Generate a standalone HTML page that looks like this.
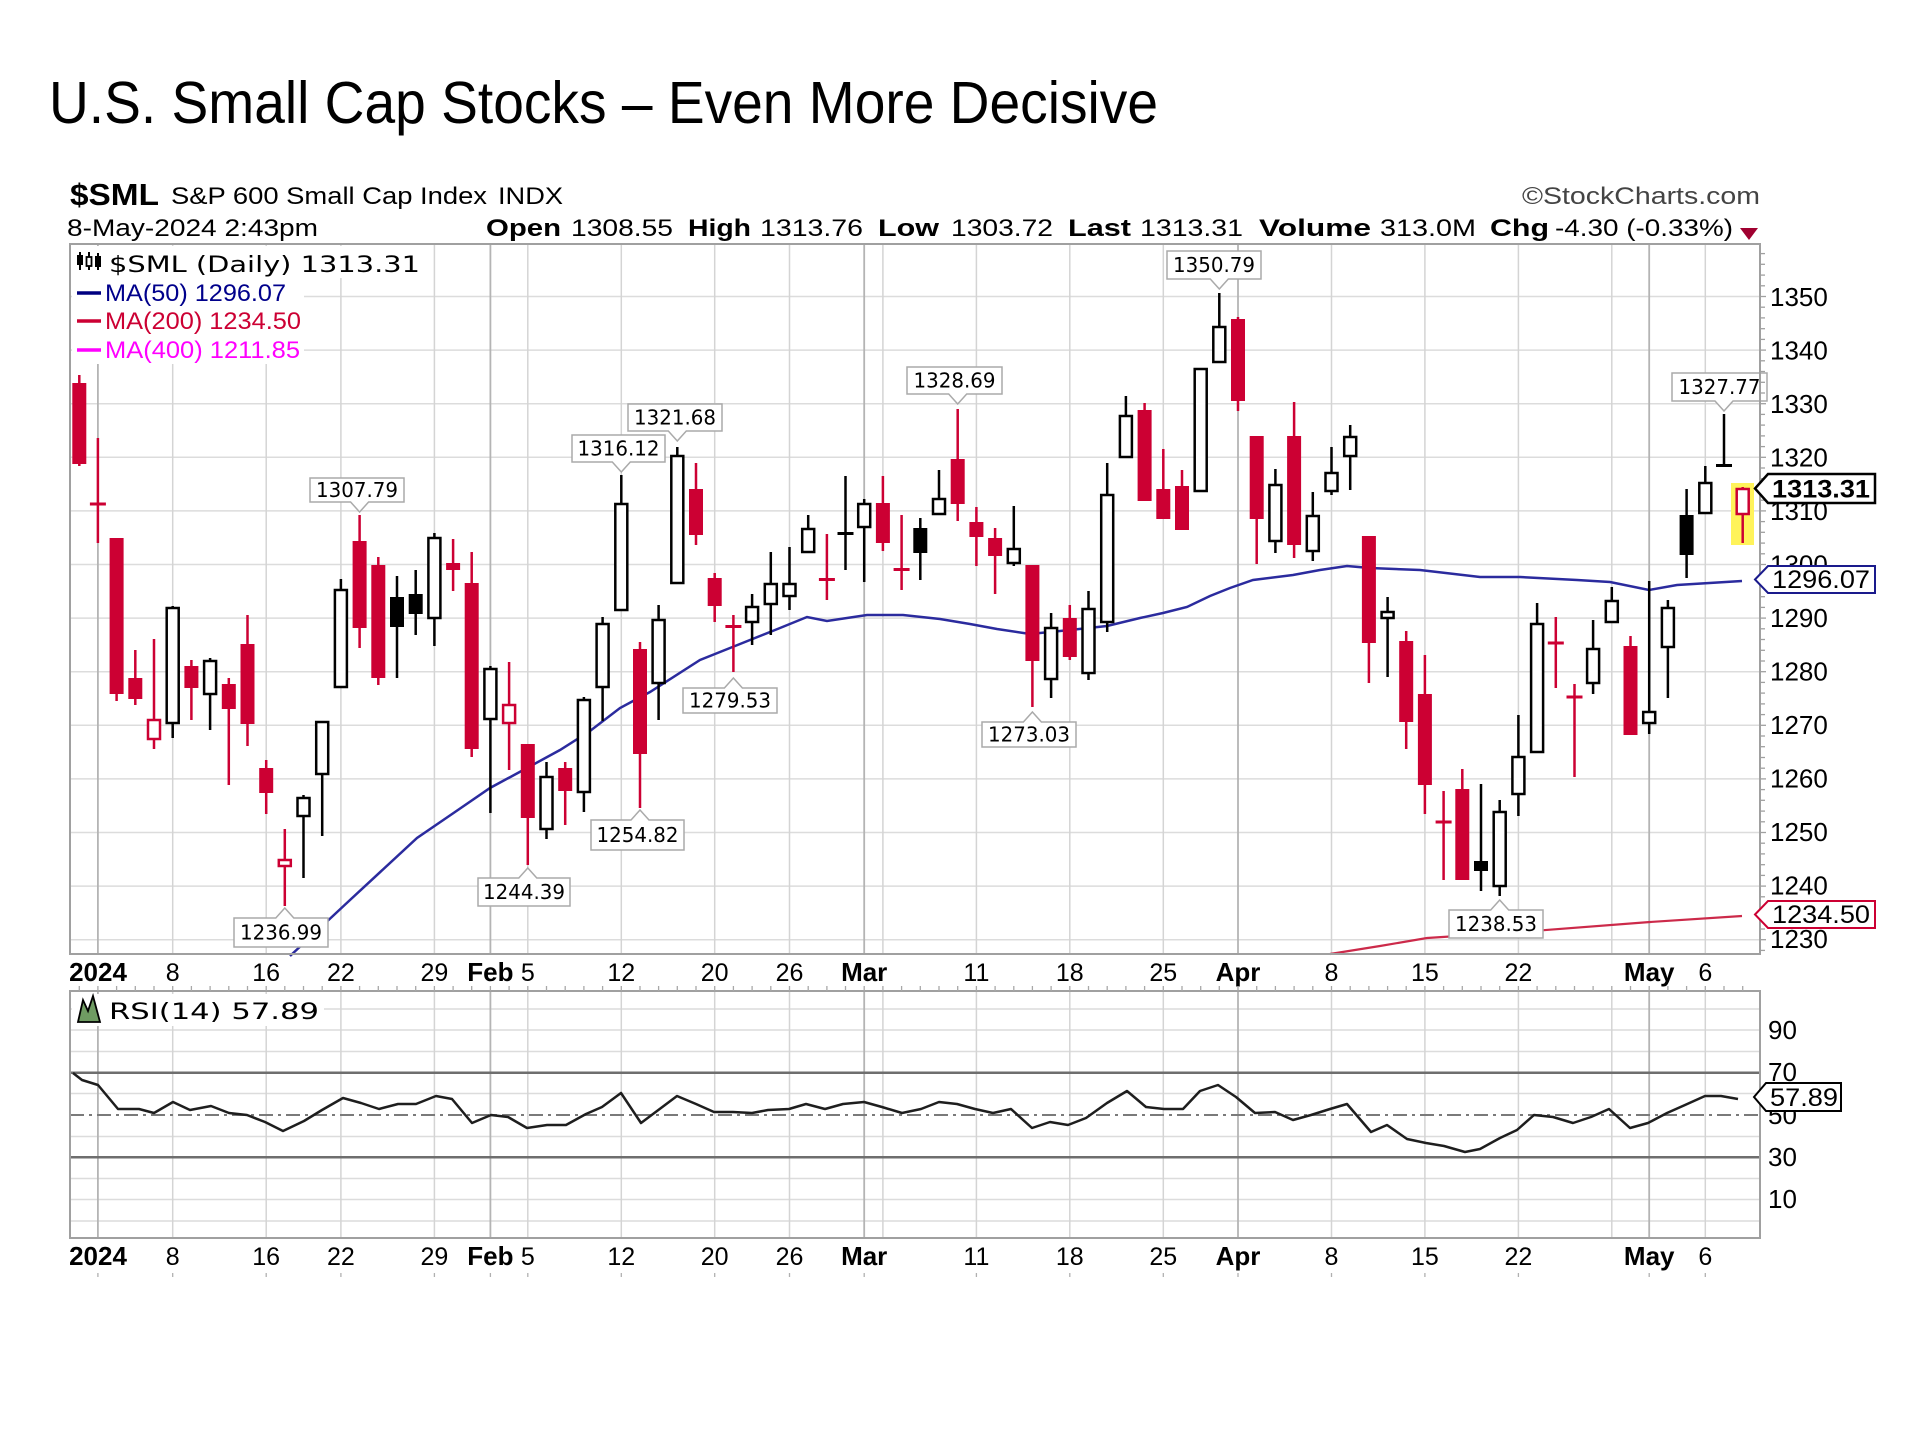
<!DOCTYPE html>
<html>
<head>
<meta charset="utf-8">
<style>
html,body{margin:0;padding:0;background:#fff;}
svg{display:block;}
.wr{stroke:#cc0033;stroke-width:2.5}
.wb{stroke:#000;stroke-width:2.5}
.fr{fill:#cc0033}
.fb{fill:#000}
.hr{fill:#fff;stroke:#cc0033;stroke-width:2.5}
.hb{fill:#fff;stroke:#000;stroke-width:2.5}
.gh{stroke:#dcdcdc;stroke-width:1.5}
.gv{stroke:#d4d4d4;stroke-width:1.5}
.gm{stroke:#b4b4b4;stroke-width:1.8}
.lb{fill:#fff;stroke:#aaa;stroke-width:1.5}
.lt{font-family:"DejaVu Sans",sans-serif;font-size:20px;fill:#000;text-anchor:middle}
.ax{font-family:"Liberation Sans",sans-serif;font-size:26px;fill:#000}
.xd{font-family:"Liberation Sans",sans-serif;font-size:25px;fill:#000;text-anchor:middle}
.xb{font-family:"Liberation Sans",sans-serif;font-size:26px;font-weight:bold;fill:#000;text-anchor:middle}
</style>
</head>
<body>
<svg width="1920" height="1440" viewBox="0 0 1920 1440" xmlns="http://www.w3.org/2000/svg">
<rect x="0" y="0" width="1920" height="1440" fill="#fff"/>

<!-- Title -->
<text x="49" y="123" font-family="Liberation Sans, sans-serif" font-size="59" fill="#000" textLength="1109" lengthAdjust="spacingAndGlyphs">U.S. Small Cap Stocks – Even More Decisive</text>

<!-- Header -->
<text x="70" y="205" font-family="Liberation Sans, sans-serif" font-size="31" font-weight="bold" textLength="89" lengthAdjust="spacingAndGlyphs">$SML</text>
<text x="171" y="204" font-family="Liberation Sans, sans-serif" font-size="24" textLength="316" lengthAdjust="spacingAndGlyphs">S&amp;P 600 Small Cap Index</text>
<text x="498" y="204" font-family="Liberation Sans, sans-serif" font-size="24" textLength="65" lengthAdjust="spacingAndGlyphs">INDX</text>
<text x="1522" y="204" font-family="Liberation Sans, sans-serif" font-size="24" fill="#444" textLength="238" lengthAdjust="spacingAndGlyphs">©StockCharts.com</text>
<text x="67" y="236" font-family="Liberation Sans, sans-serif" font-size="24" textLength="251" lengthAdjust="spacingAndGlyphs">8-May-2024 2:43pm</text>
<g font-family="Liberation Sans, sans-serif" font-size="24">
<text x="486" y="236" font-weight="bold" textLength="75" lengthAdjust="spacingAndGlyphs">Open</text>
<text x="571" y="236" textLength="102" lengthAdjust="spacingAndGlyphs">1308.55</text>
<text x="688" y="236" font-weight="bold" textLength="63" lengthAdjust="spacingAndGlyphs">High</text>
<text x="760" y="236" textLength="103" lengthAdjust="spacingAndGlyphs">1313.76</text>
<text x="878" y="236" font-weight="bold" textLength="61" lengthAdjust="spacingAndGlyphs">Low</text>
<text x="951" y="236" textLength="102" lengthAdjust="spacingAndGlyphs">1303.72</text>
<text x="1068" y="236" font-weight="bold" textLength="63" lengthAdjust="spacingAndGlyphs">Last</text>
<text x="1140" y="236" textLength="103" lengthAdjust="spacingAndGlyphs">1313.31</text>
<text x="1259" y="236" font-weight="bold" textLength="112" lengthAdjust="spacingAndGlyphs">Volume</text>
<text x="1380" y="236" textLength="96" lengthAdjust="spacingAndGlyphs">313.0M</text>
<text x="1490" y="236" font-weight="bold" textLength="59" lengthAdjust="spacingAndGlyphs">Chg</text>
<text x="1555" y="236" textLength="178" lengthAdjust="spacingAndGlyphs">-4.30 (-0.33%)</text>
</g>
<polygon points="1740,228 1758,228 1749,240" fill="#a00030"/>

<!-- ===== MAIN PLOT ===== -->
<!-- horizontal gridlines -->
<g class="gh">
<line x1="70" y1="296.5" x2="1760" y2="296.5"/>
<line x1="70" y1="350.1" x2="1760" y2="350.1"/>
<line x1="70" y1="403.7" x2="1760" y2="403.7"/>
<line x1="70" y1="457.3" x2="1760" y2="457.3"/>
<line x1="70" y1="510.9" x2="1760" y2="510.9"/>
<line x1="70" y1="564.5" x2="1760" y2="564.5"/>
<line x1="70" y1="618.1" x2="1760" y2="618.1"/>
<line x1="70" y1="671.7" x2="1760" y2="671.7"/>
<line x1="70" y1="725.3" x2="1760" y2="725.3"/>
<line x1="70" y1="778.9" x2="1760" y2="778.9"/>
<line x1="70" y1="832.5" x2="1760" y2="832.5"/>
<line x1="70" y1="886.1" x2="1760" y2="886.1"/>
<line x1="70" y1="939.7" x2="1760" y2="939.7"/>
</g>
<!-- vertical gridlines -->
<g class="gv">
<line x1="172.7" y1="244" x2="172.7" y2="954"/>
<line x1="266.2" y1="244" x2="266.2" y2="954"/>
<line x1="340.9" y1="244" x2="340.9" y2="954"/>
<line x1="434.4" y1="244" x2="434.4" y2="954"/>
<line x1="527.8" y1="244" x2="527.8" y2="954"/>
<line x1="621.3" y1="244" x2="621.3" y2="954"/>
<line x1="714.7" y1="244" x2="714.7" y2="954"/>
<line x1="789.5" y1="244" x2="789.5" y2="954"/>
<line x1="882.9" y1="244" x2="882.9" y2="954"/>
<line x1="976.4" y1="244" x2="976.4" y2="954"/>
<line x1="1069.8" y1="244" x2="1069.8" y2="954"/>
<line x1="1163.3" y1="244" x2="1163.3" y2="954"/>
<line x1="1331.5" y1="244" x2="1331.5" y2="954"/>
<line x1="1424.9" y1="244" x2="1424.9" y2="954"/>
<line x1="1518.4" y1="244" x2="1518.4" y2="954"/>
<line x1="1611.8" y1="244" x2="1611.8" y2="954"/>
<line x1="1705.3" y1="244" x2="1705.3" y2="954"/>
</g>
<g class="gm">
<line x1="97.9" y1="244" x2="97.9" y2="954"/>
<line x1="490.4" y1="244" x2="490.4" y2="954"/>
<line x1="864.2" y1="244" x2="864.2" y2="954"/>
<line x1="1238.0" y1="244" x2="1238.0" y2="954"/>
<line x1="1649.2" y1="244" x2="1649.2" y2="954"/>
</g>

<!-- legend background -->
<rect x="72" y="246" width="356" height="32" fill="#fff"/>
<rect x="72" y="278" width="232" height="86" fill="#fff"/>

<!-- yellow highlight -->
<rect x="1731" y="483" width="23" height="62" fill="#fff35a"/>

<!-- MA lines -->
<path d="M290,956 L350,900 L417,838 L455,812 L490,788 L527,768 L560,750 L590,731 L620,708 L650,692 L700,660 L740,644 L780,628 L807,617 L827,621 L867,615 L903,615 L940,619 L970,624 L997,629 L1030,634 L1070,630 L1107,626 L1140,618 L1163,613 L1187,607 L1210,596 L1230,588 L1253,580 L1293,575 L1320,570 L1347,566 L1370,568 L1420,570 L1480,577 L1520,577 L1577,580 L1610,582 L1649,590 L1677,585 L1742,581" fill="none" stroke="#2b2b9e" stroke-width="2.5"/>
<path d="M1330,954 L1380,946 L1427,938 L1520,932 L1650,922 L1742,916" fill="none" stroke="#cc2a4a" stroke-width="2.2"/>

<!-- candles -->
<line x1="79.3" y1="375" x2="79.3" y2="466" class="wr"/><rect x="72.3" y="383" width="14" height="81" class="fr"/>
<line x1="97.9" y1="438" x2="97.9" y2="543" class="wr"/><rect x="89.9" y="502.5" width="16" height="3" class="fr"/>
<line x1="116.6" y1="538" x2="116.6" y2="701" class="wr"/><rect x="109.6" y="538" width="14" height="156" class="fr"/>
<line x1="135.3" y1="650" x2="135.3" y2="705" class="wr"/><rect x="128.3" y="678" width="14" height="21" class="fr"/>
<line x1="154.0" y1="639" x2="154.0" y2="749" class="wr"/><rect x="148" y="720" width="12" height="19" class="hr"/>
<line x1="172.7" y1="606" x2="172.7" y2="738" class="wb"/><rect x="166.7" y="608" width="12" height="115" class="hb"/>
<line x1="191.4" y1="660" x2="191.4" y2="720" class="wr"/><rect x="184.4" y="666" width="14" height="22" class="fr"/>
<line x1="210.1" y1="658" x2="210.1" y2="730" class="wb"/><rect x="204.1" y="661" width="12" height="33" class="hb"/>
<line x1="228.8" y1="678" x2="228.8" y2="785" class="wr"/><rect x="221.8" y="684" width="14" height="25" class="fr"/>
<line x1="247.5" y1="615" x2="247.5" y2="746" class="wr"/><rect x="240.5" y="644" width="14" height="80" class="fr"/>
<line x1="266.2" y1="760" x2="266.2" y2="814" class="wr"/><rect x="259.2" y="768" width="14" height="25" class="fr"/>
<line x1="284.8" y1="829" x2="284.8" y2="906" class="wr"/><rect x="278.8" y="860" width="12" height="6" class="hr"/>
<line x1="303.5" y1="795" x2="303.5" y2="878" class="wb"/><rect x="297.5" y="798" width="12" height="18" class="hb"/>
<line x1="322.2" y1="721" x2="322.2" y2="836" class="wb"/><rect x="316.2" y="722" width="12" height="52" class="hb"/>
<line x1="340.9" y1="579" x2="340.9" y2="688" class="wb"/><rect x="334.9" y="590" width="12" height="97" class="hb"/>
<line x1="359.6" y1="515" x2="359.6" y2="648" class="wr"/><rect x="352.6" y="541" width="14" height="87" class="fr"/>
<line x1="378.3" y1="557" x2="378.3" y2="685" class="wr"/><rect x="371.3" y="565" width="14" height="113" class="fr"/>
<line x1="397.0" y1="576" x2="397.0" y2="678" class="wb"/><rect x="390" y="597" width="14" height="30" class="fb"/>
<line x1="415.7" y1="570" x2="415.7" y2="635" class="wb"/><rect x="408.7" y="594" width="14" height="20" class="fb"/>
<line x1="434.4" y1="533" x2="434.4" y2="646" class="wb"/><rect x="428.4" y="538" width="12" height="80" class="hb"/>
<line x1="453.1" y1="539" x2="453.1" y2="591" class="wr"/><rect x="446.1" y="563" width="14" height="7" class="fr"/>
<line x1="471.7" y1="552" x2="471.7" y2="757" class="wr"/><rect x="464.7" y="583" width="14" height="166" class="fr"/>
<line x1="490.4" y1="666" x2="490.4" y2="813" class="wb"/><rect x="484.4" y="669" width="12" height="50" class="hb"/>
<line x1="509.1" y1="662" x2="509.1" y2="770" class="wr"/><rect x="503.1" y="705" width="12" height="18" class="hr"/>
<line x1="527.8" y1="744" x2="527.8" y2="865" class="wr"/><rect x="520.8" y="744" width="14" height="74" class="fr"/>
<line x1="546.5" y1="762" x2="546.5" y2="839" class="wb"/><rect x="540.5" y="777" width="12" height="52" class="hb"/>
<line x1="565.2" y1="762" x2="565.2" y2="825" class="wr"/><rect x="558.2" y="768" width="14" height="23" class="fr"/>
<line x1="583.9" y1="697" x2="583.9" y2="812" class="wb"/><rect x="577.9" y="700" width="12" height="92" class="hb"/>
<line x1="602.6" y1="617" x2="602.6" y2="721" class="wb"/><rect x="596.6" y="624" width="12" height="63" class="hb"/>
<line x1="621.3" y1="475" x2="621.3" y2="611" class="wb"/><rect x="615.3" y="504" width="12" height="106" class="hb"/>
<line x1="640.0" y1="642" x2="640.0" y2="808" class="wr"/><rect x="633" y="649" width="14" height="105" class="fr"/>
<line x1="658.6" y1="605" x2="658.6" y2="720" class="wb"/><rect x="652.6" y="620" width="12" height="63" class="hb"/>
<line x1="677.3" y1="447" x2="677.3" y2="584" class="wb"/><rect x="671.3" y="456" width="12" height="127" class="hb"/>
<line x1="696.0" y1="463" x2="696.0" y2="545" class="wr"/><rect x="689" y="489" width="14" height="46" class="fr"/>
<line x1="714.7" y1="573" x2="714.7" y2="622" class="wr"/><rect x="707.7" y="578" width="14" height="28" class="fr"/>
<line x1="733.4" y1="615" x2="733.4" y2="672" class="wr"/><rect x="725.4" y="625" width="16" height="3" class="fr"/>
<line x1="752.1" y1="594" x2="752.1" y2="645" class="wb"/><rect x="746.1" y="607" width="12" height="15" class="hb"/>
<line x1="770.8" y1="552" x2="770.8" y2="635" class="wb"/><rect x="764.8" y="584" width="12" height="20" class="hb"/>
<line x1="789.5" y1="547" x2="789.5" y2="610" class="wb"/><rect x="783.5" y="584" width="12" height="12" class="hb"/>
<line x1="808.2" y1="515" x2="808.2" y2="553" class="wb"/><rect x="802.2" y="529" width="12" height="23" class="hb"/>
<line x1="826.9" y1="534" x2="826.9" y2="600" class="wr"/><rect x="818.9" y="578" width="16" height="3" class="fr"/>
<line x1="845.5" y1="476" x2="845.5" y2="570" class="wb"/><rect x="837.5" y="532" width="16" height="3" class="fb"/>
<line x1="864.2" y1="499" x2="864.2" y2="582" class="wb"/><rect x="858.2" y="504" width="12" height="23" class="hb"/>
<line x1="882.9" y1="476" x2="882.9" y2="551" class="wr"/><rect x="875.9" y="503" width="14" height="40" class="fr"/>
<line x1="901.6" y1="515" x2="901.6" y2="590" class="wr"/><rect x="893.6" y="568" width="16" height="3" class="fr"/>
<line x1="920.3" y1="518" x2="920.3" y2="580" class="wb"/><rect x="913.3" y="528" width="14" height="25" class="fb"/>
<line x1="939.0" y1="470" x2="939.0" y2="515" class="wb"/><rect x="933" y="499" width="12" height="15" class="hb"/>
<line x1="957.7" y1="409" x2="957.7" y2="521" class="wr"/><rect x="950.7" y="459" width="14" height="45" class="fr"/>
<line x1="976.4" y1="507" x2="976.4" y2="566" class="wr"/><rect x="969.4" y="522" width="14" height="15" class="fr"/>
<line x1="995.1" y1="528" x2="995.1" y2="594" class="wr"/><rect x="988.1" y="538" width="14" height="18" class="fr"/>
<line x1="1013.8" y1="506" x2="1013.8" y2="566" class="wb"/><rect x="1007.8" y="549" width="12" height="14" class="hb"/>
<line x1="1032.4" y1="565" x2="1032.4" y2="707" class="wr"/><rect x="1025.4" y="565" width="14" height="96" class="fr"/>
<line x1="1051.1" y1="613" x2="1051.1" y2="698" class="wb"/><rect x="1045.1" y="628" width="12" height="51" class="hb"/>
<line x1="1069.8" y1="605" x2="1069.8" y2="660" class="wr"/><rect x="1062.8" y="618" width="14" height="39" class="fr"/>
<line x1="1088.5" y1="591" x2="1088.5" y2="680" class="wb"/><rect x="1082.5" y="609" width="12" height="64" class="hb"/>
<line x1="1107.2" y1="463" x2="1107.2" y2="632" class="wb"/><rect x="1101.2" y="495" width="12" height="127" class="hb"/>
<line x1="1125.9" y1="396" x2="1125.9" y2="458" class="wb"/><rect x="1119.9" y="416" width="12" height="41" class="hb"/>
<line x1="1144.6" y1="403" x2="1144.6" y2="501" class="wr"/><rect x="1137.6" y="410" width="14" height="91" class="fr"/>
<line x1="1163.3" y1="449" x2="1163.3" y2="519" class="wr"/><rect x="1156.3" y="489" width="14" height="30" class="fr"/>
<line x1="1182.0" y1="470" x2="1182.0" y2="530" class="wr"/><rect x="1175" y="486" width="14" height="44" class="fr"/>
<line x1="1200.7" y1="368" x2="1200.7" y2="492" class="wb"/><rect x="1194.7" y="369" width="12" height="122" class="hb"/>
<line x1="1219.3" y1="293" x2="1219.3" y2="363" class="wb"/><rect x="1213.3" y="327" width="12" height="35" class="hb"/>
<line x1="1238.0" y1="317" x2="1238.0" y2="411" class="wr"/><rect x="1231" y="319" width="14" height="82" class="fr"/>
<line x1="1256.7" y1="436" x2="1256.7" y2="564" class="wr"/><rect x="1249.7" y="436" width="14" height="83" class="fr"/>
<line x1="1275.4" y1="469" x2="1275.4" y2="553" class="wb"/><rect x="1269.4" y="485" width="12" height="56" class="hb"/>
<line x1="1294.1" y1="402" x2="1294.1" y2="558" class="wr"/><rect x="1287.1" y="436" width="14" height="109" class="fr"/>
<line x1="1312.8" y1="492" x2="1312.8" y2="561" class="wb"/><rect x="1306.8" y="516" width="12" height="35" class="hb"/>
<line x1="1331.5" y1="447" x2="1331.5" y2="495" class="wb"/><rect x="1325.5" y="473" width="12" height="18" class="hb"/>
<line x1="1350.2" y1="425" x2="1350.2" y2="490" class="wb"/><rect x="1344.2" y="437" width="12" height="19" class="hb"/>
<line x1="1368.9" y1="536" x2="1368.9" y2="683" class="wr"/><rect x="1361.9" y="536" width="14" height="107" class="fr"/>
<line x1="1387.6" y1="597" x2="1387.6" y2="677" class="wb"/><rect x="1381.6" y="612" width="12" height="6" class="hb"/>
<line x1="1406.2" y1="631" x2="1406.2" y2="749" class="wr"/><rect x="1399.2" y="641" width="14" height="81" class="fr"/>
<line x1="1424.9" y1="655" x2="1424.9" y2="814" class="wr"/><rect x="1417.9" y="694" width="14" height="91" class="fr"/>
<line x1="1443.6" y1="791" x2="1443.6" y2="880" class="wr"/><rect x="1435.6" y="820.5" width="16" height="3" class="fr"/>
<line x1="1462.3" y1="769" x2="1462.3" y2="880" class="wr"/><rect x="1455.3" y="789" width="14" height="91" class="fr"/>
<line x1="1481.0" y1="784" x2="1481.0" y2="891" class="wb"/><rect x="1474" y="861" width="14" height="10" class="fb"/>
<line x1="1499.7" y1="800" x2="1499.7" y2="896" class="wb"/><rect x="1493.7" y="812" width="12" height="74" class="hb"/>
<line x1="1518.4" y1="715" x2="1518.4" y2="816" class="wb"/><rect x="1512.4" y="757" width="12" height="37" class="hb"/>
<line x1="1537.1" y1="603" x2="1537.1" y2="753" class="wb"/><rect x="1531.1" y="624" width="12" height="128" class="hb"/>
<line x1="1555.8" y1="617" x2="1555.8" y2="688" class="wr"/><rect x="1547.8" y="641.5" width="16" height="3" class="fr"/>
<line x1="1574.5" y1="684" x2="1574.5" y2="777" class="wr"/><rect x="1566.5" y="695.5" width="16" height="3" class="fr"/>
<line x1="1593.1" y1="620" x2="1593.1" y2="694" class="wb"/><rect x="1587.1" y="649" width="12" height="34" class="hb"/>
<line x1="1611.8" y1="587" x2="1611.8" y2="623" class="wb"/><rect x="1605.8" y="601" width="12" height="21" class="hb"/>
<line x1="1630.5" y1="636" x2="1630.5" y2="735" class="wr"/><rect x="1623.5" y="646" width="14" height="89" class="fr"/>
<line x1="1649.2" y1="581" x2="1649.2" y2="734" class="wb"/><rect x="1643.2" y="712" width="12" height="11" class="hb"/>
<line x1="1667.9" y1="600" x2="1667.9" y2="698" class="wb"/><rect x="1661.9" y="608" width="12" height="39" class="hb"/>
<line x1="1686.6" y1="489" x2="1686.6" y2="578" class="wb"/><rect x="1679.6" y="515" width="14" height="40" class="fb"/>
<line x1="1705.3" y1="466" x2="1705.3" y2="514" class="wb"/><rect x="1699.3" y="483" width="12" height="30" class="hb"/>
<line x1="1724.0" y1="414" x2="1724.0" y2="466" class="wb"/><rect x="1716" y="464" width="16" height="3" class="fb"/>
<line x1="1742.7" y1="487" x2="1742.7" y2="543" class="wr"/><rect x="1736.7" y="489" width="12" height="25" class="hr"/>

<!-- price labels with pointers -->
<path d="M310,478 H404 V502 H368.6 L359.6,512 L350.6,502 H310 Z" class="lb"/><text x="357" y="497" class="lt" textLength="82" lengthAdjust="spacingAndGlyphs">1307.79</text>
<path d="M234,918 H275.8 L284.8,908 L293.8,918 H328 V947 H234 Z" class="lb"/><text x="281" y="939.5" class="lt" textLength="82" lengthAdjust="spacingAndGlyphs">1236.99</text>
<path d="M572,435 H665 V462 H630.3 L621.3,472 L612.3,462 H572 Z" class="lb"/><text x="618.5" y="455.5" class="lt" textLength="82" lengthAdjust="spacingAndGlyphs">1316.12</text>
<path d="M628,404 H722 V431 H686.3 L677.3,441 L668.3,431 H628 Z" class="lb"/><text x="675" y="424.5" class="lt" textLength="82" lengthAdjust="spacingAndGlyphs">1321.68</text>
<path d="M478,878 H518.8 L527.8,868 L536.8,878 H570 V906 H478 Z" class="lb"/><text x="524" y="899" class="lt" textLength="82" lengthAdjust="spacingAndGlyphs">1244.39</text>
<path d="M591,820 H631 L640,810 L649,820 H684 V850 H591 Z" class="lb"/><text x="637.5" y="842" class="lt" textLength="82" lengthAdjust="spacingAndGlyphs">1254.82</text>
<path d="M683,688 H724.4 L733.4,678 L742.4,688 H777 V713 H683 Z" class="lb"/><text x="730" y="707.5" class="lt" textLength="82" lengthAdjust="spacingAndGlyphs">1279.53</text>
<path d="M907,367 H1002 V394 H966.7 L957.7,404 L948.7,394 H907 Z" class="lb"/><text x="954.5" y="387.5" class="lt" textLength="82" lengthAdjust="spacingAndGlyphs">1328.69</text>
<path d="M982,722 H1023.4 L1032.4,712 L1041.4,722 H1076 V747 H982 Z" class="lb"/><text x="1029" y="741.5" class="lt" textLength="82" lengthAdjust="spacingAndGlyphs">1273.03</text>
<path d="M1167,251 H1261 V279 H1228.3 L1219.3,289 L1210.3,279 H1167 Z" class="lb"/><text x="1214" y="272" class="lt" textLength="82" lengthAdjust="spacingAndGlyphs">1350.79</text>
<path d="M1449,910 H1490.7 L1499.7,900 L1508.7,910 H1543 V938 H1449 Z" class="lb"/><text x="1496" y="931" class="lt" textLength="82" lengthAdjust="spacingAndGlyphs">1238.53</text>
<path d="M1672,373 H1767 V401 H1733 L1724,411 L1715,401 H1672 Z" class="lb"/><text x="1719.5" y="394" class="lt" textLength="82" lengthAdjust="spacingAndGlyphs">1327.77</text>

<!-- legend -->
<g>
<line x1="80" y1="252" x2="80" y2="270" stroke="#000" stroke-width="2"/>
<rect x="77" y="255" width="6" height="10" fill="#000"/>
<line x1="89" y1="252" x2="89" y2="270" stroke="#000" stroke-width="2"/>
<rect x="86.5" y="257" width="5" height="9" fill="#fff" stroke="#000" stroke-width="1.8"/>
<line x1="98" y1="253" x2="98" y2="270" stroke="#000" stroke-width="2"/>
<rect x="95" y="256" width="6" height="11" fill="#000"/>
</g>
<text x="109" y="272" font-family="DejaVu Sans, sans-serif" font-size="22" fill="#000" textLength="311" lengthAdjust="spacingAndGlyphs">$SML (Daily) 1313.31</text>
<line x1="77" y1="293" x2="101" y2="293" stroke="#000080" stroke-width="3.5"/>
<text x="105" y="301" font-family="Liberation Sans, sans-serif" font-size="24" fill="#00008b" textLength="181" lengthAdjust="spacingAndGlyphs">MA(50) 1296.07</text>
<line x1="77" y1="321" x2="101" y2="321" stroke="#cc0033" stroke-width="3.5"/>
<text x="105" y="329" font-family="Liberation Sans, sans-serif" font-size="24" fill="#cc0033" textLength="196" lengthAdjust="spacingAndGlyphs">MA(200) 1234.50</text>
<line x1="77" y1="350" x2="101" y2="350" stroke="#ff00ff" stroke-width="3.5"/>
<text x="105" y="358" font-family="Liberation Sans, sans-serif" font-size="24" fill="#ff00ff" textLength="195" lengthAdjust="spacingAndGlyphs">MA(400) 1211.85</text>

<!-- main border -->
<rect x="70" y="244" width="1690" height="710" fill="none" stroke="#a0a0a0" stroke-width="2"/>
<!-- right minor ticks -->
<g stroke="#a0a0a0" stroke-width="1.3">
<line x1="1760" y1="253.6" x2="1765" y2="253.6"/><line x1="1760" y1="264.3" x2="1765" y2="264.3"/><line x1="1760" y1="275.1" x2="1765" y2="275.1"/><line x1="1760" y1="285.8" x2="1765" y2="285.8"/><line x1="1760" y1="296.5" x2="1766" y2="296.5"/>
<line x1="1760" y1="307.2" x2="1765" y2="307.2"/><line x1="1760" y1="317.9" x2="1765" y2="317.9"/><line x1="1760" y1="328.7" x2="1765" y2="328.7"/><line x1="1760" y1="339.4" x2="1765" y2="339.4"/><line x1="1760" y1="350.1" x2="1766" y2="350.1"/>
<line x1="1760" y1="360.8" x2="1765" y2="360.8"/><line x1="1760" y1="371.5" x2="1765" y2="371.5"/><line x1="1760" y1="382.3" x2="1765" y2="382.3"/><line x1="1760" y1="393" x2="1765" y2="393"/><line x1="1760" y1="403.7" x2="1766" y2="403.7"/>
<line x1="1760" y1="414.4" x2="1765" y2="414.4"/><line x1="1760" y1="425.1" x2="1765" y2="425.1"/><line x1="1760" y1="435.9" x2="1765" y2="435.9"/><line x1="1760" y1="446.6" x2="1765" y2="446.6"/><line x1="1760" y1="457.3" x2="1766" y2="457.3"/>
<line x1="1760" y1="468" x2="1765" y2="468"/><line x1="1760" y1="478.7" x2="1765" y2="478.7"/><line x1="1760" y1="489.5" x2="1765" y2="489.5"/><line x1="1760" y1="500.2" x2="1765" y2="500.2"/><line x1="1760" y1="510.9" x2="1766" y2="510.9"/>
<line x1="1760" y1="521.6" x2="1765" y2="521.6"/><line x1="1760" y1="532.3" x2="1765" y2="532.3"/><line x1="1760" y1="543.1" x2="1765" y2="543.1"/><line x1="1760" y1="553.8" x2="1765" y2="553.8"/><line x1="1760" y1="564.5" x2="1766" y2="564.5"/>
<line x1="1760" y1="575.2" x2="1765" y2="575.2"/><line x1="1760" y1="585.9" x2="1765" y2="585.9"/><line x1="1760" y1="596.7" x2="1765" y2="596.7"/><line x1="1760" y1="607.4" x2="1765" y2="607.4"/><line x1="1760" y1="618.1" x2="1766" y2="618.1"/>
<line x1="1760" y1="628.8" x2="1765" y2="628.8"/><line x1="1760" y1="639.5" x2="1765" y2="639.5"/><line x1="1760" y1="650.3" x2="1765" y2="650.3"/><line x1="1760" y1="661" x2="1765" y2="661"/><line x1="1760" y1="671.7" x2="1766" y2="671.7"/>
<line x1="1760" y1="682.4" x2="1765" y2="682.4"/><line x1="1760" y1="693.1" x2="1765" y2="693.1"/><line x1="1760" y1="703.9" x2="1765" y2="703.9"/><line x1="1760" y1="714.6" x2="1765" y2="714.6"/><line x1="1760" y1="725.3" x2="1766" y2="725.3"/>
<line x1="1760" y1="736" x2="1765" y2="736"/><line x1="1760" y1="746.7" x2="1765" y2="746.7"/><line x1="1760" y1="757.5" x2="1765" y2="757.5"/><line x1="1760" y1="768.2" x2="1765" y2="768.2"/><line x1="1760" y1="778.9" x2="1766" y2="778.9"/>
<line x1="1760" y1="789.6" x2="1765" y2="789.6"/><line x1="1760" y1="800.3" x2="1765" y2="800.3"/><line x1="1760" y1="811.1" x2="1765" y2="811.1"/><line x1="1760" y1="821.8" x2="1765" y2="821.8"/><line x1="1760" y1="832.5" x2="1766" y2="832.5"/>
<line x1="1760" y1="843.2" x2="1765" y2="843.2"/><line x1="1760" y1="853.9" x2="1765" y2="853.9"/><line x1="1760" y1="864.7" x2="1765" y2="864.7"/><line x1="1760" y1="875.4" x2="1765" y2="875.4"/><line x1="1760" y1="886.1" x2="1766" y2="886.1"/>
<line x1="1760" y1="896.8" x2="1765" y2="896.8"/><line x1="1760" y1="907.5" x2="1765" y2="907.5"/><line x1="1760" y1="918.3" x2="1765" y2="918.3"/><line x1="1760" y1="929" x2="1765" y2="929"/><line x1="1760" y1="939.7" x2="1766" y2="939.7"/><line x1="1760" y1="950.4" x2="1765" y2="950.4"/>
</g>

<!-- y-axis labels -->
<g class="ax">
<text x="1770" y="306">1350</text>
<text x="1770" y="359.5">1340</text>
<text x="1770" y="413">1330</text>
<text x="1770" y="466.5">1320</text>
<text x="1770" y="520">1310</text>
<text x="1770" y="573.5">1300</text>
<text x="1770" y="627">1290</text>
<text x="1770" y="680.5">1280</text>
<text x="1770" y="734">1270</text>
<text x="1770" y="787.5">1260</text>
<text x="1770" y="841">1250</text>
<text x="1770" y="894.5">1240</text>
<text x="1770" y="948">1230</text>
</g>

<!-- right value boxes -->
<path d="M1755,488.5 L1768,474 H1875 V503 H1768 Z" fill="#fff" stroke="#000" stroke-width="2.5"/>
<text x="1821" y="497.5" font-family="Liberation Sans, sans-serif" font-size="25" font-weight="bold" text-anchor="middle" textLength="98" lengthAdjust="spacingAndGlyphs">1313.31</text>
<path d="M1755,579.5 L1768,566 H1875 V593 H1768 Z" fill="#fff" stroke="#1a1a8c" stroke-width="2"/>
<text x="1821" y="588" font-family="Liberation Sans, sans-serif" font-size="25" text-anchor="middle" textLength="98" lengthAdjust="spacingAndGlyphs">1296.07</text>
<path d="M1755,914.5 L1768,901 H1875 V928 H1768 Z" fill="#fff" stroke="#cc0033" stroke-width="2"/>
<text x="1821" y="923" font-family="Liberation Sans, sans-serif" font-size="25" text-anchor="middle" textLength="98" lengthAdjust="spacingAndGlyphs">1234.50</text>

<!-- main x-axis labels -->
<g>
<text x="98" y="981" class="xb">2024</text>
<text x="172.7" y="981" class="xd">8</text>
<text x="266.2" y="981" class="xd">16</text>
<text x="340.9" y="981" class="xd">22</text>
<text x="434.4" y="981" class="xd">29</text>
<text x="490.4" y="981" class="xb">Feb</text>
<text x="527.8" y="981" class="xd">5</text>
<text x="621.3" y="981" class="xd">12</text>
<text x="714.7" y="981" class="xd">20</text>
<text x="789.5" y="981" class="xd">26</text>
<text x="864.2" y="981" class="xb">Mar</text>
<text x="976.4" y="981" class="xd">11</text>
<text x="1069.8" y="981" class="xd">18</text>
<text x="1163.3" y="981" class="xd">25</text>
<text x="1238.0" y="981" class="xb">Apr</text>
<text x="1331.5" y="981" class="xd">8</text>
<text x="1424.9" y="981" class="xd">15</text>
<text x="1518.4" y="981" class="xd">22</text>
<text x="1649.2" y="981" class="xb">May</text>
<text x="1705.3" y="981" class="xd">6</text>
</g>

<!-- ===== RSI PANEL ===== -->
<g class="gh">
<line x1="70" y1="1009" x2="1760" y2="1009"/>
<line x1="70" y1="1030" x2="1760" y2="1030"/>
<line x1="70" y1="1051.5" x2="1760" y2="1051.5"/>
<line x1="70" y1="1093.5" x2="1760" y2="1093.5"/>
<line x1="70" y1="1136.5" x2="1760" y2="1136.5"/>
<line x1="70" y1="1178.5" x2="1760" y2="1178.5"/>
<line x1="70" y1="1199.5" x2="1760" y2="1199.5"/>
<line x1="70" y1="1221" x2="1760" y2="1221"/>
</g>
<g class="gv">
<line x1="172.7" y1="991" x2="172.7" y2="1238"/>
<line x1="266.2" y1="991" x2="266.2" y2="1238"/>
<line x1="340.9" y1="991" x2="340.9" y2="1238"/>
<line x1="434.4" y1="991" x2="434.4" y2="1238"/>
<line x1="527.8" y1="991" x2="527.8" y2="1238"/>
<line x1="621.3" y1="991" x2="621.3" y2="1238"/>
<line x1="714.7" y1="991" x2="714.7" y2="1238"/>
<line x1="789.5" y1="991" x2="789.5" y2="1238"/>
<line x1="882.9" y1="991" x2="882.9" y2="1238"/>
<line x1="976.4" y1="991" x2="976.4" y2="1238"/>
<line x1="1069.8" y1="991" x2="1069.8" y2="1238"/>
<line x1="1163.3" y1="991" x2="1163.3" y2="1238"/>
<line x1="1331.5" y1="991" x2="1331.5" y2="1238"/>
<line x1="1424.9" y1="991" x2="1424.9" y2="1238"/>
<line x1="1518.4" y1="991" x2="1518.4" y2="1238"/>
<line x1="1611.8" y1="991" x2="1611.8" y2="1238"/>
<line x1="1705.3" y1="991" x2="1705.3" y2="1238"/>
</g>
<g class="gm">
<line x1="97.9" y1="991" x2="97.9" y2="1238"/>
<line x1="490.4" y1="991" x2="490.4" y2="1238"/>
<line x1="864.2" y1="991" x2="864.2" y2="1238"/>
<line x1="1238.0" y1="991" x2="1238.0" y2="1238"/>
<line x1="1649.2" y1="991" x2="1649.2" y2="1238"/>
</g>
<line x1="70" y1="1072.7" x2="1760" y2="1072.7" stroke="#6e6e6e" stroke-width="2.5"/>
<line x1="70" y1="1157.3" x2="1760" y2="1157.3" stroke="#6e6e6e" stroke-width="2.5"/>
<line x1="70" y1="1115" x2="1760" y2="1115" stroke="#7a7a7a" stroke-width="2" stroke-dasharray="14,5,3,5"/>

<!-- RSI line -->
<polyline fill="none" stroke="#1e1e1e" stroke-width="2.5" stroke-linejoin="round" points="73,1073 82,1080 98,1085 118,1109 139,1109 154,1113 173,1102 190,1110 211,1106 229,1113 247,1115 265,1122 283,1131 304,1121 322,1110 343,1098 361,1103 379,1109 398,1104 416,1104 436,1096 452,1099 472,1123 491,1115 508,1117 527,1128 547,1125 566,1125 586,1114 602,1107 621,1093 641,1123 677,1096 696,1104 714,1112 733,1112 752,1113 768,1110 789,1109 806,1104 825,1109 843,1104 864,1102 882,1107 902,1113 921,1109 939,1102 957,1104 975,1109 993,1113 1011,1109 1032,1128 1050,1122 1068,1125 1086,1118 1107,1103 1127,1091 1146,1107 1164,1109 1183,1109 1200,1091 1218,1085 1236,1097 1255,1113 1275,1112 1293,1120 1311,1115 1330,1109 1347,1104 1371,1132 1387,1125 1407,1139 1426,1143 1444,1146 1465,1152 1480,1149 1500,1138 1517,1130 1534,1115 1553,1117 1573,1123 1591,1117 1609,1109 1630,1128 1648,1123 1667,1113 1685,1105 1705,1096 1721,1096 1738,1099"/>

<!-- RSI legend -->
<rect x="72" y="994" width="252" height="32" fill="#fff"/>
<polygon points="78,1022 83,1000 88,1011 93,996 100,1022" fill="#6f9c62" stroke="#000" stroke-width="1.8"/>
<text x="109" y="1019" font-family="DejaVu Sans, sans-serif" font-size="22" fill="#000" textLength="210" lengthAdjust="spacingAndGlyphs">RSI(14) 57.89</text>

<!-- RSI border -->
<rect x="70" y="991" width="1690" height="247" fill="none" stroke="#a0a0a0" stroke-width="2"/>

<!-- RSI y labels -->
<g class="ax">
<text x="1768" y="1039">90</text>
<text x="1768" y="1081">70</text>
<text x="1768" y="1124">50</text>
<text x="1768" y="1166">30</text>
<text x="1768" y="1208">10</text>
</g>
<path d="M1754,1097 L1766,1083 H1841 V1111 H1766 Z" fill="#fff" stroke="#000" stroke-width="2"/>
<text x="1804" y="1106" font-family="Liberation Sans, sans-serif" font-size="25" text-anchor="middle" textLength="68" lengthAdjust="spacingAndGlyphs">57.89</text>

<!-- day ticks on RSI top border -->
<g stroke="#a8a8a8" stroke-width="1.3">
<line x1="79.3" y1="986" x2="79.3" y2="991"/><line x1="97.9" y1="986" x2="97.9" y2="991"/><line x1="116.6" y1="986" x2="116.6" y2="991"/><line x1="135.3" y1="986" x2="135.3" y2="991"/><line x1="154" y1="986" x2="154" y2="991"/><line x1="172.7" y1="986" x2="172.7" y2="991"/><line x1="191.4" y1="986" x2="191.4" y2="991"/><line x1="210.1" y1="986" x2="210.1" y2="991"/><line x1="228.8" y1="986" x2="228.8" y2="991"/><line x1="247.5" y1="986" x2="247.5" y2="991"/>
<line x1="266.2" y1="986" x2="266.2" y2="991"/><line x1="284.8" y1="986" x2="284.8" y2="991"/><line x1="303.5" y1="986" x2="303.5" y2="991"/><line x1="322.2" y1="986" x2="322.2" y2="991"/><line x1="340.9" y1="986" x2="340.9" y2="991"/><line x1="359.6" y1="986" x2="359.6" y2="991"/><line x1="378.3" y1="986" x2="378.3" y2="991"/><line x1="397" y1="986" x2="397" y2="991"/><line x1="415.7" y1="986" x2="415.7" y2="991"/><line x1="434.4" y1="986" x2="434.4" y2="991"/>
<line x1="453.1" y1="986" x2="453.1" y2="991"/><line x1="471.7" y1="986" x2="471.7" y2="991"/><line x1="490.4" y1="986" x2="490.4" y2="991"/><line x1="509.1" y1="986" x2="509.1" y2="991"/><line x1="527.8" y1="986" x2="527.8" y2="991"/><line x1="546.5" y1="986" x2="546.5" y2="991"/><line x1="565.2" y1="986" x2="565.2" y2="991"/><line x1="583.9" y1="986" x2="583.9" y2="991"/><line x1="602.6" y1="986" x2="602.6" y2="991"/><line x1="621.3" y1="986" x2="621.3" y2="991"/>
<line x1="640" y1="986" x2="640" y2="991"/><line x1="658.6" y1="986" x2="658.6" y2="991"/><line x1="677.3" y1="986" x2="677.3" y2="991"/><line x1="696" y1="986" x2="696" y2="991"/><line x1="714.7" y1="986" x2="714.7" y2="991"/><line x1="733.4" y1="986" x2="733.4" y2="991"/><line x1="752.1" y1="986" x2="752.1" y2="991"/><line x1="770.8" y1="986" x2="770.8" y2="991"/><line x1="789.5" y1="986" x2="789.5" y2="991"/><line x1="808.2" y1="986" x2="808.2" y2="991"/>
<line x1="826.9" y1="986" x2="826.9" y2="991"/><line x1="845.5" y1="986" x2="845.5" y2="991"/><line x1="864.2" y1="986" x2="864.2" y2="991"/><line x1="882.9" y1="986" x2="882.9" y2="991"/><line x1="901.6" y1="986" x2="901.6" y2="991"/><line x1="920.3" y1="986" x2="920.3" y2="991"/><line x1="939" y1="986" x2="939" y2="991"/><line x1="957.7" y1="986" x2="957.7" y2="991"/><line x1="976.4" y1="986" x2="976.4" y2="991"/><line x1="995.1" y1="986" x2="995.1" y2="991"/>
<line x1="1013.8" y1="986" x2="1013.8" y2="991"/><line x1="1032.4" y1="986" x2="1032.4" y2="991"/><line x1="1051.1" y1="986" x2="1051.1" y2="991"/><line x1="1069.8" y1="986" x2="1069.8" y2="991"/><line x1="1088.5" y1="986" x2="1088.5" y2="991"/><line x1="1107.2" y1="986" x2="1107.2" y2="991"/><line x1="1125.9" y1="986" x2="1125.9" y2="991"/><line x1="1144.6" y1="986" x2="1144.6" y2="991"/><line x1="1163.3" y1="986" x2="1163.3" y2="991"/><line x1="1182" y1="986" x2="1182" y2="991"/>
<line x1="1200.7" y1="986" x2="1200.7" y2="991"/><line x1="1219.3" y1="986" x2="1219.3" y2="991"/><line x1="1238" y1="986" x2="1238" y2="991"/><line x1="1256.7" y1="986" x2="1256.7" y2="991"/><line x1="1275.4" y1="986" x2="1275.4" y2="991"/><line x1="1294.1" y1="986" x2="1294.1" y2="991"/><line x1="1312.8" y1="986" x2="1312.8" y2="991"/><line x1="1331.5" y1="986" x2="1331.5" y2="991"/><line x1="1350.2" y1="986" x2="1350.2" y2="991"/><line x1="1368.9" y1="986" x2="1368.9" y2="991"/>
<line x1="1387.6" y1="986" x2="1387.6" y2="991"/><line x1="1406.2" y1="986" x2="1406.2" y2="991"/><line x1="1424.9" y1="986" x2="1424.9" y2="991"/><line x1="1443.6" y1="986" x2="1443.6" y2="991"/><line x1="1462.3" y1="986" x2="1462.3" y2="991"/><line x1="1481" y1="986" x2="1481" y2="991"/><line x1="1499.7" y1="986" x2="1499.7" y2="991"/><line x1="1518.4" y1="986" x2="1518.4" y2="991"/><line x1="1537.1" y1="986" x2="1537.1" y2="991"/><line x1="1555.8" y1="986" x2="1555.8" y2="991"/>
<line x1="1574.5" y1="986" x2="1574.5" y2="991"/><line x1="1593.1" y1="986" x2="1593.1" y2="991"/><line x1="1611.8" y1="986" x2="1611.8" y2="991"/><line x1="1630.5" y1="986" x2="1630.5" y2="991"/><line x1="1649.2" y1="986" x2="1649.2" y2="991"/><line x1="1667.9" y1="986" x2="1667.9" y2="991"/><line x1="1686.6" y1="986" x2="1686.6" y2="991"/><line x1="1705.3" y1="986" x2="1705.3" y2="991"/><line x1="1724" y1="986" x2="1724" y2="991"/><line x1="1742.7" y1="986" x2="1742.7" y2="991"/>
</g>

<!-- bottom x-axis labels -->
<g>
<text x="98" y="1265" class="xb">2024</text>
<text x="172.7" y="1265" class="xd">8</text>
<text x="266.2" y="1265" class="xd">16</text>
<text x="340.9" y="1265" class="xd">22</text>
<text x="434.4" y="1265" class="xd">29</text>
<text x="490.4" y="1265" class="xb">Feb</text>
<text x="527.8" y="1265" class="xd">5</text>
<text x="621.3" y="1265" class="xd">12</text>
<text x="714.7" y="1265" class="xd">20</text>
<text x="789.5" y="1265" class="xd">26</text>
<text x="864.2" y="1265" class="xb">Mar</text>
<text x="976.4" y="1265" class="xd">11</text>
<text x="1069.8" y="1265" class="xd">18</text>
<text x="1163.3" y="1265" class="xd">25</text>
<text x="1238.0" y="1265" class="xb">Apr</text>
<text x="1331.5" y="1265" class="xd">8</text>
<text x="1424.9" y="1265" class="xd">15</text>
<text x="1518.4" y="1265" class="xd">22</text>
<text x="1649.2" y="1265" class="xb">May</text>
<text x="1705.3" y="1265" class="xd">6</text>
</g>
<g stroke="#b0b0b0" stroke-width="1.3">
<line x1="97.9" y1="1273" x2="97.9" y2="1277"/><line x1="172.7" y1="1273" x2="172.7" y2="1277"/><line x1="266.2" y1="1273" x2="266.2" y2="1277"/><line x1="340.9" y1="1273" x2="340.9" y2="1277"/><line x1="434.4" y1="1273" x2="434.4" y2="1277"/><line x1="490.4" y1="1273" x2="490.4" y2="1277"/><line x1="527.8" y1="1273" x2="527.8" y2="1277"/><line x1="621.3" y1="1273" x2="621.3" y2="1277"/><line x1="714.7" y1="1273" x2="714.7" y2="1277"/><line x1="789.5" y1="1273" x2="789.5" y2="1277"/><line x1="864.2" y1="1273" x2="864.2" y2="1277"/><line x1="976.4" y1="1273" x2="976.4" y2="1277"/><line x1="1069.8" y1="1273" x2="1069.8" y2="1277"/><line x1="1163.3" y1="1273" x2="1163.3" y2="1277"/><line x1="1238" y1="1273" x2="1238" y2="1277"/><line x1="1331.5" y1="1273" x2="1331.5" y2="1277"/><line x1="1424.9" y1="1273" x2="1424.9" y2="1277"/><line x1="1518.4" y1="1273" x2="1518.4" y2="1277"/><line x1="1649.2" y1="1273" x2="1649.2" y2="1277"/><line x1="1705.3" y1="1273" x2="1705.3" y2="1277"/>
</g>
</svg>
</body>
</html>
